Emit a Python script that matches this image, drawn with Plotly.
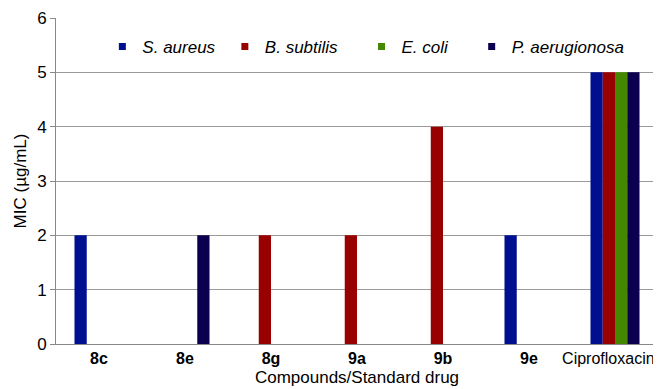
import plotly.graph_objects as go

categories = ["8c", "8e", "8g", "9a", "9b", "9e", "Ciprofloxacin"]
tick_labels = ["<b>8c</b>", "<b>8e</b>", "<b>8g</b>", "<b>9a</b>", "<b>9b</b>", "<b>9e</b>",
               "Ciprofloxacin\u00a0\u00a0\u00a0"]
series_names = ["S. aureus", "B. subtilis", "E. coli", "P. aerugionosa"]
s_aureus = [2, 0, 0, 0, 0, 2, 5]
b_subtilis = [0, 0, 2, 2, 4, 0, 5]
e_coli = [0, 0, 0, 0, 0, 0, 5]
p_aeruginosa = [0, 2, 0, 0, 0, 0, 5]
y_ticks = [0, 1, 2, 3, 4, 5, 6]

series_values = [s_aureus, b_subtilis, e_coli, p_aeruginosa]
colors = ["#000f90", "#990000", "#438800", "#0b0050"]
legend_pad = ["\u00a0", "\u00a0\u00a0\u00a0\u00a0", "\u00a0\u00a0\u00a0\u00a0", ""]

font_family = "Liberation Sans, Arial, sans-serif"

fig = go.Figure()
for name, vals, col in zip(series_names, series_values, colors):
    fig.add_trace(go.Bar(
        x=categories, y=vals, name=name, marker_color=col,
        marker_line_width=0, showlegend=False,
    ))
for name, col, pad in zip(series_names, colors, legend_pad):
    fig.add_trace(go.Scatter(
        x=[None], y=[None], mode="markers", name=name + pad,
        marker=dict(symbol="square", size=7, color=col),
    ))

fig.update_layout(
    width=661, height=389,
    margin=dict(l=48, r=11, t=10, b=53),
    paper_bgcolor="white", plot_bgcolor="white",
    barmode="group", bargap=0.43, bargroupgap=0,
    font=dict(family=font_family, size=17, color="black"),
    legend=dict(
        orientation="h", x=0.077, y=0.911, xanchor="left", yanchor="middle",
        font=dict(family=font_family, size=17, style="italic"),
        bgcolor="rgba(0,0,0,0)", itemwidth=30, tracegroupgap=0,
    ),
    xaxis=dict(
        tickmode="array", tickvals=categories, ticktext=tick_labels,
        tickfont=dict(size=16),
        showline=True, linecolor="#888888", linewidth=1,
        ticks="", showgrid=False,
        title=dict(text="Compounds/Standard drug", standoff=4,
                   font=dict(size=17)),
        automargin=False,
    ),
    yaxis=dict(
        range=[0, 6], tickvals=y_ticks,
        showline=True, linecolor="#888888", linewidth=1,
        ticks="outside", ticklen=5, tickcolor="#888888",
        showgrid=True, gridcolor="#9a9a9a", gridwidth=1,
        zeroline=False,
        title=dict(text="MIC (µg/mL)", standoff=6, font=dict(size=17)),
        automargin=False,
    ),
)

fig.write_html("out.html")
